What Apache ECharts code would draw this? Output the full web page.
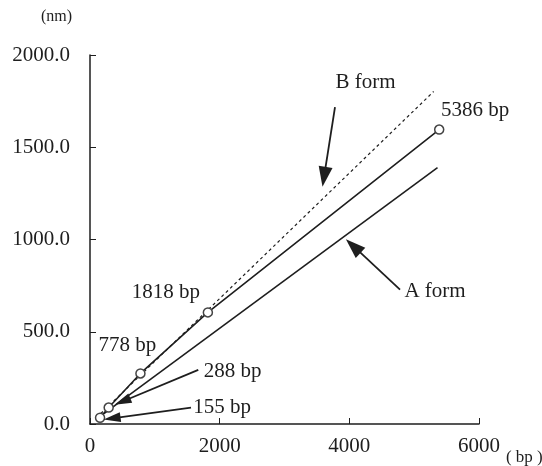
<!DOCTYPE html>
<html>
<head>
<meta charset="utf-8">
<script src="https://cdn.jsdelivr.net/npm/echarts@6/dist/echarts.min.js"></script>
<style>
  html, body { margin: 0; padding: 0; background: #fff; }
  #chart { width: 542px; height: 466px; }
</style>
</head>
<body>
<div id="chart"></div>
<script>
// measured contour lengths (nm) vs. DNA length (bp)
var lengthsBp = [155, 288, 778, 1818, 5386];
var lengthsNm = [34, 89, 274, 605, 1596];
var pointLabels = ['', '', '778 bp', '1818 bp', '5386 bp'];

// reference lines, endpoints in data units
var bFormLine = [[100, 34], [5300, 1802]];
var aFormLine = [[100, 26], [5360, 1390]];

var xTicks = [0, 2000, 4000, 6000];
var yTicks = [0, 500, 1000, 1500, 2000];

var serif = 'Liberation Serif';
var ink = '#1e1e1e';

var measured = lengthsBp.map(function(bp, i) {
  return [bp, lengthsNm[i]];
});

// label offsets of the measured points (px)
var labelOffsets = [[0, 0], [0, 0], [-13, -28], [-42, -20], [36, -19]];

var chart = echarts.init(document.getElementById('chart'));

function arrow(from, to, size) {
  return [
    { coord: from, symbol: 'none' },
    { coord: to, symbol: 'triangle', symbolSize: size }
  ];
}

function note(text, x, y) {
  return { value: [x, y], label: { formatter: text } };
}

var option = {
  animation: false,
  grid: { left: 90, right: 63, top: 55, bottom: 42, containLabel: false, outerBoundsMode: 'none' },
  xAxis: {
    type: 'value',
    min: xTicks[0],
    max: xTicks[xTicks.length - 1],
    interval: 2000,
    name: '( bp )',
    nameLocation: 'end',
    nameGap: 20,
    nameTextStyle: {
      fontFamily: serif, fontSize: 17, color: ink,
      align: 'left', verticalAlign: 'top', padding: [25, 0, 0, 0]
    },
    axisLine: { lineStyle: { color: ink, width: 1.5 } },
    axisTick: { inside: true, length: 6, lineStyle: { color: ink } },
    axisLabel: {
      fontFamily: serif, fontSize: 21, color: ink, margin: 12,
      formatter: function(v) { return String(v); }
    },
    splitLine: { show: false }
  },
  yAxis: {
    type: 'value',
    min: yTicks[0],
    max: yTicks[yTicks.length - 1],
    interval: 500,
    name: '(nm)',
    nameLocation: 'end',
    nameGap: 30,
    nameTextStyle: {
      fontFamily: serif, fontSize: 16, color: ink,
      align: 'right', padding: [0, 18, 0, 0]
    },
    axisLine: { show: true, lineStyle: { color: ink, width: 1.5 } },
    axisTick: { show: true, inside: true, length: 6, lineStyle: { color: ink } },
    axisLabel: {
      fontFamily: serif, fontSize: 21, color: ink, margin: 20,
      formatter: function(v) { return v.toFixed(1); }
    },
    splitLine: { show: false }
  },
  series: [{
    name: 'B form',
    type: 'line',
    data: bFormLine,
    symbol: 'none',
    lineStyle: { color: ink, width: 1.2, type: [3, 3] },
    z: 2
  }, {
    name: 'A form',
    type: 'line',
    data: aFormLine,
    symbol: 'none',
    lineStyle: { color: ink, width: 1.6 },
    z: 2
  }, {
    name: 'measured',
    type: 'line',
    data: measured.map(function(p, i) {
      return {
        value: p,
        label: {
          show: !!pointLabels[i],
          formatter: pointLabels[i],
          position: 'inside',
          offset: labelOffsets[i]
        }
      };
    }),
    symbol: 'circle',
    symbolSize: 9,
    itemStyle: { color: '#fff', borderColor: '#444', borderWidth: 1.5 },
    lineStyle: { color: ink, width: 1.6 },
    label: { fontFamily: serif, fontSize: 21, color: ink },
    z: 3
  }, {
    name: 'notes',
    type: 'scatter',
    symbolSize: 1,
    silent: true,
    itemStyle: { opacity: 1, color: 'rgba(0,0,0,0)' },
    label: {
      show: true, position: 'inside',
      fontFamily: serif, fontSize: 21, color: ink,
      textBorderWidth: 0
    },
    data: [
      note('B form', 4250, 1853),
      note('A form', 5322, 717),
      note('288 bp', 2200, 283),
      note('155 bp', 2036, 87)
    ],
    markLine: {
      silent: true,
      symbol: ['none', 'triangle'],
      label: { show: false },
      lineStyle: { color: ink, width: 1.8, type: 'solid' },
      itemStyle: { color: ink },
      data: [
        arrow([3779, 1717], [3610, 1340], [14, 20]),
        arrow([4782, 728], [4060, 965], [14, 20]),
        arrow([1670, 293], [500, 122], [10, 17]),
        arrow([1558, 89], [340, 31], [10, 17])
      ]
    }
  }]
};

chart.setOption(option);
</script>
</body>
</html>
